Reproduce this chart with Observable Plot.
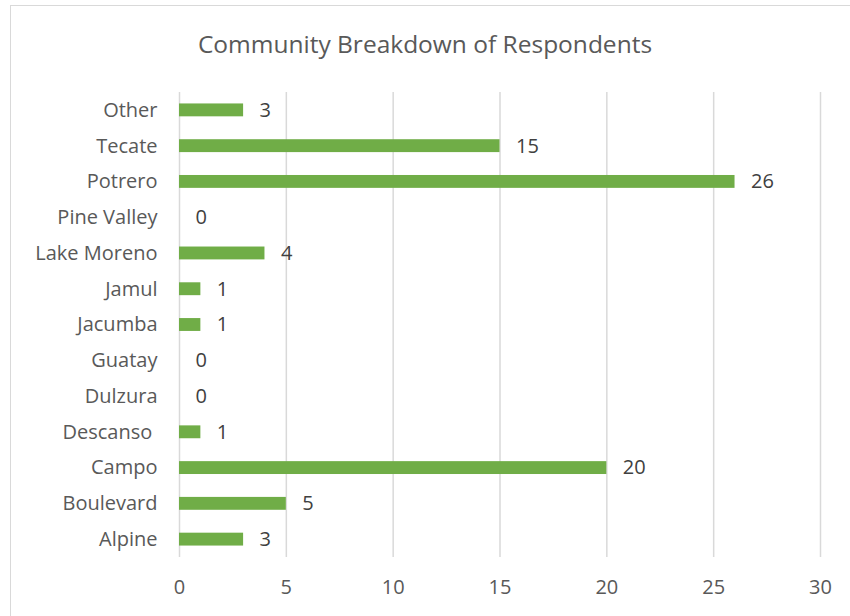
<!DOCTYPE html>
<html>
<head>
<meta charset="utf-8">
<script src="https://cdn.jsdelivr.net/npm/d3@7"></script>
<script src="https://cdn.jsdelivr.net/npm/@observablehq/plot@0.6"></script>
<style>
  body { margin: 0; background: #fff; }
  #wrap { position: relative; width: 850px; height: 616px; overflow: hidden; font-family: "Open Sans", sans-serif; background: #fff; }
  #frame { position: absolute; left: 10px; top: 5px; width: 900px; height: 700px; border: 1.5px solid #d9d9d9; box-sizing: border-box; }
  #title { position: absolute; top: 27px; left: 0; width: 850px; text-align: center; font-size: 24.5px; color: #595959; }
  #chart { position: absolute; top: 70px; left: 0; }
  #chart svg text { white-space: pre; }
</style>
</head>
<body>
<div id="wrap">
  <div id="frame"></div>
  <div id="title">Community Breakdown of Respondents</div>
  <div id="chart"></div>
</div>
<script>
const communities = ["Alpine", "Boulevard", "Campo", "Descanso ", "Dulzura", "Guatay", "Jacumba", "Jamul", "Lake Moreno", "Pine Valley", "Potrero", "Tecate", "Other"];
const counts = [3, 5, 20, 1, 0, 0, 1, 1, 4, 0, 26, 15, 3];
const xTicks = [0, 5, 10, 15, 20, 25, 30];

const data = communities.map((c, i) => ({community: c, count: counts[i]}));
const order = communities.slice().reverse();

const chart = Plot.plot({
  width: 850,
  height: 546,
  marginTop: 22,
  marginBottom: 59,
  marginLeft: 179,
  marginRight: 30,
  style: {fontFamily: "Open Sans, sans-serif", fontSize: "20px", color: "#595959", background: "transparent"},
  x: {domain: [0, 30], ticks: xTicks, label: null},
  y: {domain: order, paddingInner: 0.64, paddingOuter: 0.32, round: false, label: null},
  marks: [
    Plot.ruleX(xTicks, {stroke: "#d9d9d9", strokeWidth: 1.5}),
    Plot.barX(data, {x: "count", y: "community", fill: "#70AD47"}),
    Plot.text(data, {x: "count", y: "community", text: d => String(d.count), textAnchor: "start", dx: 16, fill: "#404040", fontSize: 20}),
    Plot.axisX({ticks: xTicks, tickSize: 0, tickPadding: 22, fontSize: 20, fill: "#595959", label: null}),
    Plot.axisY({tickSize: 0, tickPadding: 22, fontSize: 20, fill: "#595959", label: null})
  ]
});
document.getElementById("chart").appendChild(chart);
</script>
</body>
</html>
